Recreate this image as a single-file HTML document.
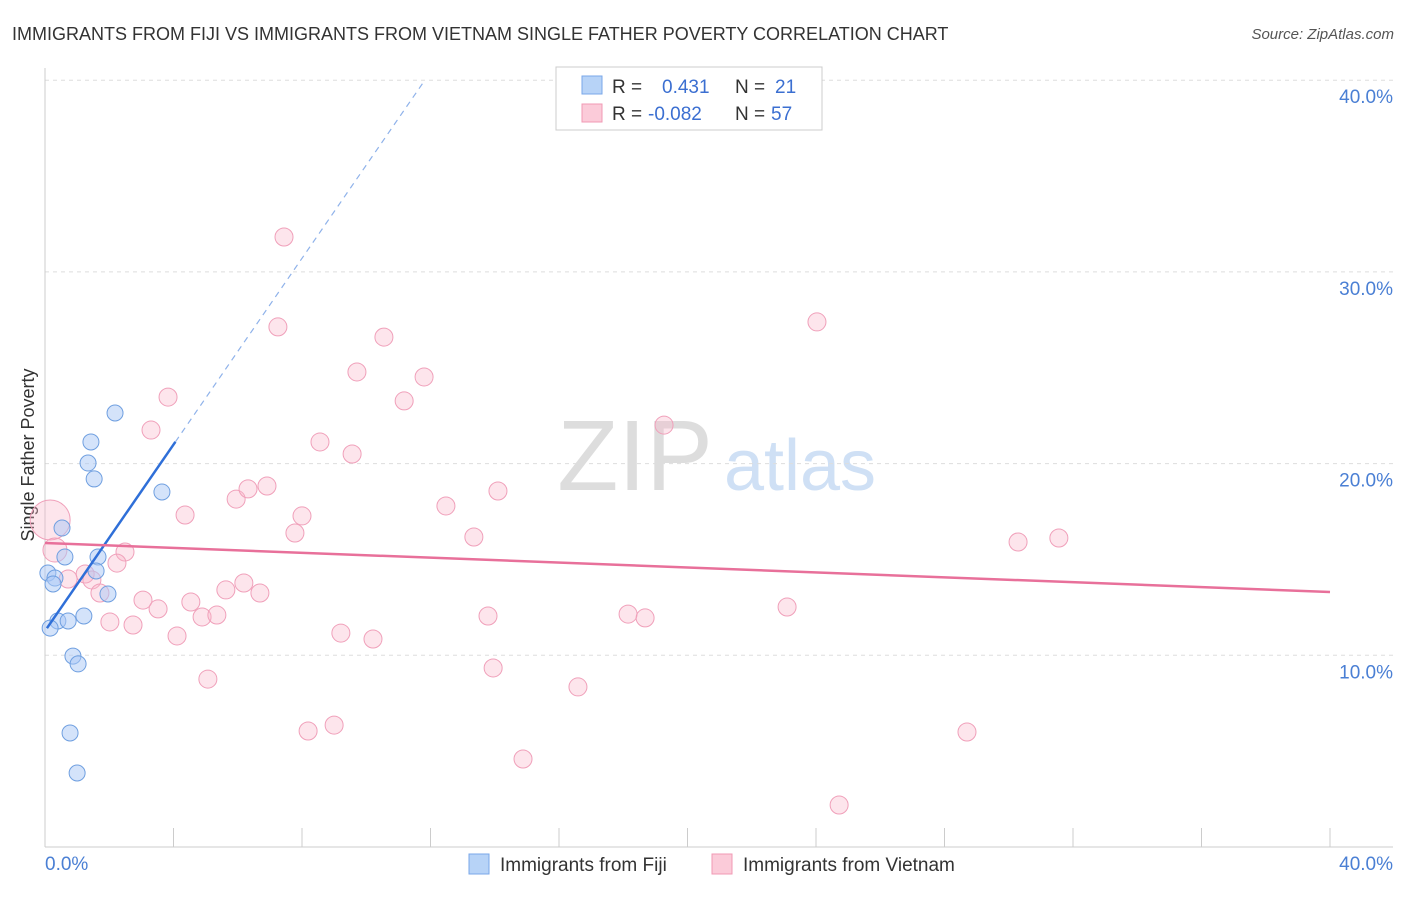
<!DOCTYPE html>
<html><head><meta charset="utf-8"><style>
body{margin:0;background:#fff;font-family:"Liberation Sans",sans-serif}
svg text{font-family:"Liberation Sans",sans-serif}
</style></head><body>
<svg id="c" width="1406" height="892">
<text x="12" y="40" font-size="18" fill="#333">IMMIGRANTS FROM FIJI VS IMMIGRANTS FROM VIETNAM SINGLE FATHER POVERTY CORRELATION CHART</text>
<text x="1394" y="39" font-size="15" fill="#555" text-anchor="end" font-style="italic">Source: ZipAtlas.com</text>
<text x="635" y="490" font-size="100" fill="#ddd" text-anchor="middle" font-family="Liberation Serif">ZIP</text>
<text x="800" y="490" font-size="72" fill="#cfe0f5" text-anchor="middle">atlas</text>
<text transform="translate(34,455) rotate(-90)" font-size="18" fill="#333" text-anchor="middle">Single Father Poverty</text>
<g id="grid"></g><g id="marks"></g>
<g>
<rect x="556" y="67" width="266" height="63" fill="#fff" stroke="#ccc"/>
<rect x="582" y="76" width="20" height="18" fill="#b7d3f7" stroke="#7aa7e8"/>
<rect x="582" y="104" width="20" height="18" fill="#fbcbd9" stroke="#f09ab4"/>
<text x="612" y="93" font-size="19" fill="#333">R = <tspan x="662" fill="#3b6fd1">0.431</tspan><tspan x="735" fill="#333">N = </tspan><tspan x="775" fill="#3b6fd1">21</tspan></text>
<text x="612" y="120" font-size="19" fill="#333">R = <tspan x="648" fill="#3b6fd1">-0.082</tspan><tspan x="735" fill="#333">N = </tspan><tspan x="771" fill="#3b6fd1">57</tspan></text>
</g>
<g>
<rect x="469" y="854" width="20" height="20" fill="#b7d3f7" stroke="#7aa7e8"/>
<text x="500" y="871" font-size="19" fill="#333">Immigrants from Fiji</text>
<rect x="712" y="854" width="20" height="20" fill="#fbcbd9" stroke="#f09ab4"/>
<text x="743" y="871" font-size="19" fill="#333">Immigrants from Vietnam</text>
</g>
</svg>
<script>
const yTicks=[10,20,30,40];
const xTickLabels=["0.0%","40.0%"];
const fijiX=[2.18,1.43,1.34,1.53,3.64,0.53,0.62,1.65,0.09,0.31,0.25,1.59,1.96,1.21,0.40,0.72,0.16,0.87,1.03,0.78,1.00];
const fijiY=[22.64,21.13,20.03,19.20,18.52,16.64,15.13,15.13,14.29,14.03,13.72,14.40,13.20,12.05,11.79,11.79,11.42,9.96,9.55,5.95,3.86];
const vietX=[7.44,7.25,24.03,10.55,9.71,11.80,11.18,3.83,3.30,8.56,19.27,9.56,5.95,6.91,6.32,12.48,14.10,4.36,8.00,7.78,13.35,30.29,31.56,2.49,2.24,0.16,0.31,1.25,0.72,1.46,1.71,3.05,3.52,4.54,5.63,6.19,6.69,4.89,5.35,2.02,2.74,4.11,9.21,10.21,13.79,18.15,18.68,23.10,13.95,5.07,16.59,8.19,9.00,28.70,14.88,24.72];
const vietY=[31.82,27.13,27.39,26.60,24.78,24.52,23.27,23.47,21.75,21.13,22.01,20.50,18.15,18.83,18.68,17.79,18.57,17.32,17.27,16.38,16.17,15.91,16.12,15.39,14.81,17.06,15.49,14.24,13.98,13.93,13.25,12.88,12.42,12.78,13.41,13.77,13.25,12.00,12.10,11.74,11.58,11.01,11.16,10.85,12.05,12.15,11.95,12.52,9.34,8.76,8.35,6.05,6.36,6.00,4.59,2.19];
const fijiTrend=[11.27,2.43]; // intercept, slope
const vietTrend=[15.86,-0.064];
const X=v=>45+v*32.125, Y=v=>847-v*19.17;
const NS="http://www.w3.org/2000/svg";
function mk(t,a,p){const e=document.createElementNS(NS,t);for(const k in a)e.setAttribute(k,a[k]);p.appendChild(e);return e;}
const g=document.getElementById('grid'),m=document.getElementById('marks');
yTicks.forEach(t=>{
 const l=mk('line',{x1:45,x2:1393,y1:Y(t),y2:Y(t),stroke:'#ddd','stroke-dasharray':'4,4'},g);
 
 
 const tx=mk('text',{x:1393,y:Y(t)+23,'font-size':19,fill:'#4a7fd4','text-anchor':'end'},g);
 tx.textContent=t.toFixed(1)+'%';
 
 
});
mk('line',{x1:45,x2:45,y1:68,y2:847,stroke:'#ccc'},g);
mk('line',{x1:45,x2:1393,y1:847,y2:847,stroke:'#ccc'},g);
for(let i=0;i<=10;i++){const t=mk('line',{x1:X(i*4),x2:X(i*4),y1:828,y2:847,stroke:'#ccc'},g);
 
 }
xTickLabels.forEach((s,i)=>{const t=mk('text',{x:i?1393:45,y:870,'font-size':19,fill:'#4a7fd4','text-anchor':i?'end':'start'},g);t.textContent=s;
 
 });
vietX.forEach((x,i)=>{const r=i==25?20:(i==26?12:9);const c=mk('circle',{cx:X(x),cy:Y(vietY[i]),r:r,fill:'rgba(248,180,201,0.35)',stroke:'#f0a0ba','stroke-width':1},m);
 
 });
fijiX.forEach((x,i)=>{const c=mk('circle',{cx:X(x),cy:Y(fijiY[i]),r:8,fill:'rgba(170,200,245,0.5)',stroke:'#6f9fe0','stroke-width':1},m);
 
 });
const fEnd=4.06, fTop=(40-fijiTrend[0])/fijiTrend[1];
const l1=mk('line',{x1:X(0.06),y1:Y(fijiTrend[0]+fijiTrend[1]*0.06),x2:X(fEnd),y2:Y(fijiTrend[0]+fijiTrend[1]*fEnd),stroke:'#2f6fd8','stroke-width':2.5},m);


const l2=mk('line',{x1:X(fEnd),y1:Y(fijiTrend[0]+fijiTrend[1]*fEnd),x2:X(fTop),y2:Y(40),stroke:'#8fb2ea','stroke-width':1.2,'stroke-dasharray':'6,5'},m);


const l3=mk('line',{x1:X(0),y1:Y(vietTrend[0]),x2:X(40),y2:Y(vietTrend[0]+vietTrend[1]*40),stroke:'#e8709a','stroke-width':2.5},m);


</script>
</body></html>
